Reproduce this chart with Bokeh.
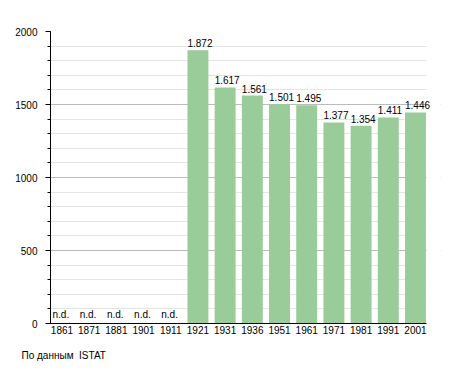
import numpy as np
from bokeh.plotting import figure
from bokeh.models import (ColumnDataSource, Range1d, FixedTicker, SingleIntervalTicker,
                          LabelSet, Title)
from bokeh.core.properties import value
from bokeh.embed import file_html
from bokeh.resources import INLINE

# ---- data ----
years = ["1861", "1871", "1881", "1901", "1911", "1921", "1931", "1936",
         "1951", "1961", "1971", "1981", "1991", "2001"]
population = [None, None, None, None, None, 1872, 1617, 1561,
              1501, 1495, 1377, 1354, 1411, 1446]
missing_label = "n.d."
footer = "По данным\u00a0\u00a0ISTAT"

FONT = "Liberation Sans"
BAR_W = 0.77
GREEN = "#99cc99"
PX_PER_SLOT = 27.2
X_START = -1 / PX_PER_SLOT
X_AXIS_END = len(years) - 1 + BAR_W + 0.02
X_END = X_AXIS_END + 14 / PX_PER_SLOT
Y_MAX = 2000

idx = np.arange(len(years))
have = [i for i, v in enumerate(population) if v is not None]
miss = [i for i, v in enumerate(population) if v is None]

bars = ColumnDataSource(dict(
    left=[float(i) for i in have],
    center=[i + BAR_W / 2 for i in have],
    top=[population[i] for i in have],
    label=[f"{population[i]:,}".replace(",", ".") for i in have],
))
nd = ColumnDataSource(dict(
    left=[float(i) for i in miss],
    y=[0] * len(miss),
    label=[missing_label] * len(miss),
))

p = figure(width=455, height=373, output_backend="svg", toolbar_location=None,
           x_range=Range1d(X_START, X_END), y_range=Range1d(0, Y_MAX),
           min_border_left=50, min_border_right=15, min_border_top=31,
           min_border_bottom=50)
p.outline_line_color = None
p.background_fill_color = "white"
p.border_fill_color = "white"

p.vbar(x="center", width=BAR_W, top="top", bottom=0, source=bars,
       fill_color=GREEN, line_color=None)
# mask the grid to the right of the chart area
p.quad(left=[X_AXIS_END], right=[X_END], bottom=[0], top=[Y_MAX],
       fill_color="white", line_color=None)

# value labels
p.add_layout(LabelSet(x="left", y="top", text="label", source=bars,
                      y_offset=3, text_align="left", text_baseline="bottom",
                      text_font=value(FONT), text_font_size=value("10px"),
                      text_color="black"))
p.add_layout(LabelSet(x="left", y="y", text="label", source=nd,
                      x_offset=1, y_offset=4, text_align="left", text_baseline="bottom",
                      text_font=value(FONT), text_font_size=value("10px"),
                      text_color="black"))

# x axis
p.xaxis.ticker = FixedTicker(ticks=[i + BAR_W / 2 for i in idx])
p.xaxis.major_label_overrides = {float(i + BAR_W / 2): y for i, y in zip(idx, years)}
p.xaxis.bounds = (X_START, X_AXIS_END)
p.xaxis.major_tick_out = 0
p.xaxis.major_tick_in = 0
p.xaxis.minor_tick_out = 0
p.xaxis.minor_tick_in = 0
p.xaxis.axis_line_color = "black"
p.xaxis.major_label_standoff = 2
p.xaxis.major_label_text_font = FONT
p.xaxis.major_label_text_font_size = "10px"
p.xaxis.major_label_text_color = "black"
p.xgrid.grid_line_color = None

# y axis
p.yaxis.ticker = SingleIntervalTicker(interval=500, num_minor_ticks=5)
p.yaxis.major_tick_out = 5
p.yaxis.major_tick_in = 0
p.yaxis.minor_tick_out = 3
p.yaxis.minor_tick_in = 0
p.yaxis.major_tick_line_color = "black"
p.yaxis.minor_tick_line_color = "black"
p.yaxis.axis_line_color = "black"
p.yaxis.major_label_standoff = 8
p.yaxis.major_label_text_font = FONT
p.yaxis.major_label_text_font_size = "10px"
p.yaxis.major_label_text_color = "black"
p.ygrid.grid_line_color = "#bbbbbb"
p.ygrid.minor_grid_line_color = "#e4e4e4"

p.add_layout(Title(text=footer, align="left", offset=-29, standoff=22,
                   text_font=FONT, text_font_size="10px", text_font_style="normal",
                   text_color="black"), "below")

open("out.html", "w").write(file_html(p, INLINE))
